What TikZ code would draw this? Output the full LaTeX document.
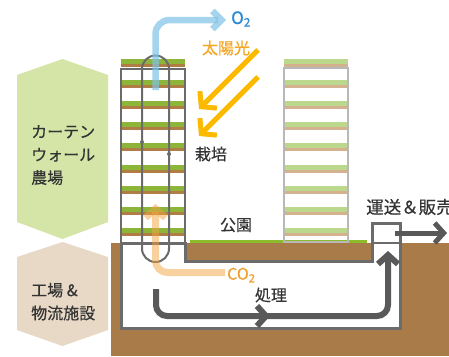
\documentclass[tikz,border=0pt]{standalone}
\usepackage{fontspec}
\setmainfont{Noto Sans CJK JP}[FakeBold=0.35]
\usetikzlibrary{arrows.meta}

\definecolor{hexgreen}{HTML}{D4E5A7}
\definecolor{hexbeige}{HTML}{E8D9C6}
\definecolor{soil}{HTML}{A97B48}
\definecolor{parkgreen}{HTML}{8DBB2E}
\definecolor{shelfgreen}{HTML}{8DB53A}
\definecolor{shelfbrown}{HTML}{B07D45}
\definecolor{palegreen}{HTML}{BCD88C}
\definecolor{paletan}{HTML}{D4B290}
\definecolor{framegray}{HTML}{6B6B6B}
\definecolor{lightframe}{HTML}{B8B8B8}
\definecolor{flowgray}{HTML}{595959}
\definecolor{oxyblue}{HTML}{80C3E7}
\definecolor{oxytext}{HTML}{2A8AD4}
\definecolor{sunyellow}{HTML}{FBB900}
\definecolor{suntext}{HTML}{F5A623}
\definecolor{carbon}{HTML}{F2A440}
\definecolor{carbontext}{HTML}{F0A030}
\definecolor{txt}{HTML}{333333}

\tikzset{
  lbl/.style={font=\fontsize{16}{23}\selectfont, text=txt, inner sep=0pt},
  hexlbl/.style={lbl, align=left, anchor=west},
  flow/.style={draw=flowgray, line width=6pt, rounded corners=11pt},
  barb/.style={-{Straight Barb[length=9pt, width=20pt]}},
  sunray/.style={draw=sunyellow, line width=5pt, -{Straight Barb[length=10pt, width=24pt]}},
  towerframe/.style={draw=framegray, line width=2pt},
}

\begin{document}
\begin{tikzpicture}[x=1pt, y=-1pt]
\useasboundingbox (0,0) rectangle (449,356);
\fill[white] (0,0) rectangle (449,356);

% side hexagons
\fill[hexgreen] (62.5,59) -- (108,75) -- (108,222) -- (62.5,239) -- (17,222) -- (17,75) -- cycle;
\fill[hexbeige] (62.5,242) -- (108,257) -- (108,330) -- (62.5,346) -- (17,330) -- (17,257) -- cycle;
\node[hexlbl] (farm) at (31,155) {カーテン\\ウォール\\農場};
\node[hexlbl, text depth=0pt] (plant) at (31,301) {工場 \&\\物流施設};

% ground and underground space
\fill[soil] (111,243) rectangle (449,356);
\filldraw[fill=white, draw=framegray, line width=3pt, line join=miter]
  (121,243) -- (185,243) -- (185,261) -- (372,261) -- (372,223) -- (400,223)
  -- (400,328) -- (121,328) -- cycle;
\draw[framegray, line width=2pt] (372,243) -- (400,243);

% park lawn
\fill[parkgreen] (190,239.5) rectangle (367,243);

% shelves of both towers
\foreach \i in {0,...,8}{
  \pgfmathsetmacro\yy{59+21.1*\i}
  \fill[shelfgreen] (121,\yy) rectangle (185,\yy+5);
  \fill[shelfbrown] (121,\yy+5) rectangle (185,\yy+8);
  \fill[palegreen] (284,\yy) rectangle (348,\yy+5);
  \fill[paletan] (284,\yy+5) rectangle (348,\yy+8);
}
\draw[lightframe, line width=2pt] (284,68) rectangle (348,242);
\draw[towerframe] (121,243) -- (121,69) -- (185,69) -- (185,243);
\draw[towerframe, rounded corners=13.5pt] (142,55.5) rectangle (169,262);
\fill[framegray] (142,142) circle (2pt);
\fill[framegray] (169,154) circle (2pt);

% oxygen out
\coordinate (o2start) at (155.5,90);
\coordinate (o2bend) at (155.5,20);
\coordinate (o2end) at (226,20);
\draw[oxyblue, opacity=0.7, line width=6.5pt, rounded corners=14pt,
      -{Straight Barb[length=9pt, width=18pt]}] (o2start) -- (o2bend) -- (o2end);
\node[font=\fontsize{17}{20}\selectfont, text=oxytext, anchor=west, inner sep=0pt] (o2) at (231,19) {O\textsubscript{2}};

% sunlight
\node[lbl, text=suntext] (sun) at (226,48) {太陽光};
\coordinate (ray1a) at (258,50);
\coordinate (ray1b) at (199,109);
\coordinate (ray2a) at (258,77);
\coordinate (ray2b) at (199,136);
\draw[sunray] (ray1a) -- (ray1b);
\draw[sunray] (ray2a) -- (ray2b);

\node[lbl] (grow) at (211,154) {栽培};
\node[lbl] (park) at (236,225) {公園};

% carbon dioxide back into the tower
\coordinate (co2start) at (225,272.5);
\coordinate (co2bend) at (155.5,272.5);
\coordinate (co2end) at (155.5,204);
\draw[carbon, opacity=0.5, line width=7pt, rounded corners=12pt,
      -{Straight Barb[length=9pt, width=20pt]}] (co2start) -- (co2bend) -- (co2end);
\node[font=\fontsize{16}{20}\selectfont, text=carbontext, anchor=west, inner sep=0pt] (co2) at (227,275) {CO\textsubscript{2}};

% processing loop
\node[lbl] (proc) at (271,295) {処理};
\coordinate (fstart) at (156,289);
\coordinate (fc1) at (156,316);
\coordinate (fc2) at (388,316);
\coordinate (fend) at (388,251);
\coordinate (fmid1) at (252,316);
\coordinate (fmid2) at (270,316);
\draw[flow, barb] (fstart) -- (fc1) -- (fc2) -- (fend);
\draw[flowgray, line width=6pt, barb] (fmid1) -- (fmid2);

% shipping
\node[lbl, anchor=west, font=\fontsize{17.5}{20}\selectfont] (ship) at (366,207) {運送＆販売};
\coordinate (shipa) at (395,233);
\coordinate (shipb) at (447,233);
\draw[flowgray, line width=5pt, barb] (shipa) -- (shipb);
\end{tikzpicture}
\end{document}
